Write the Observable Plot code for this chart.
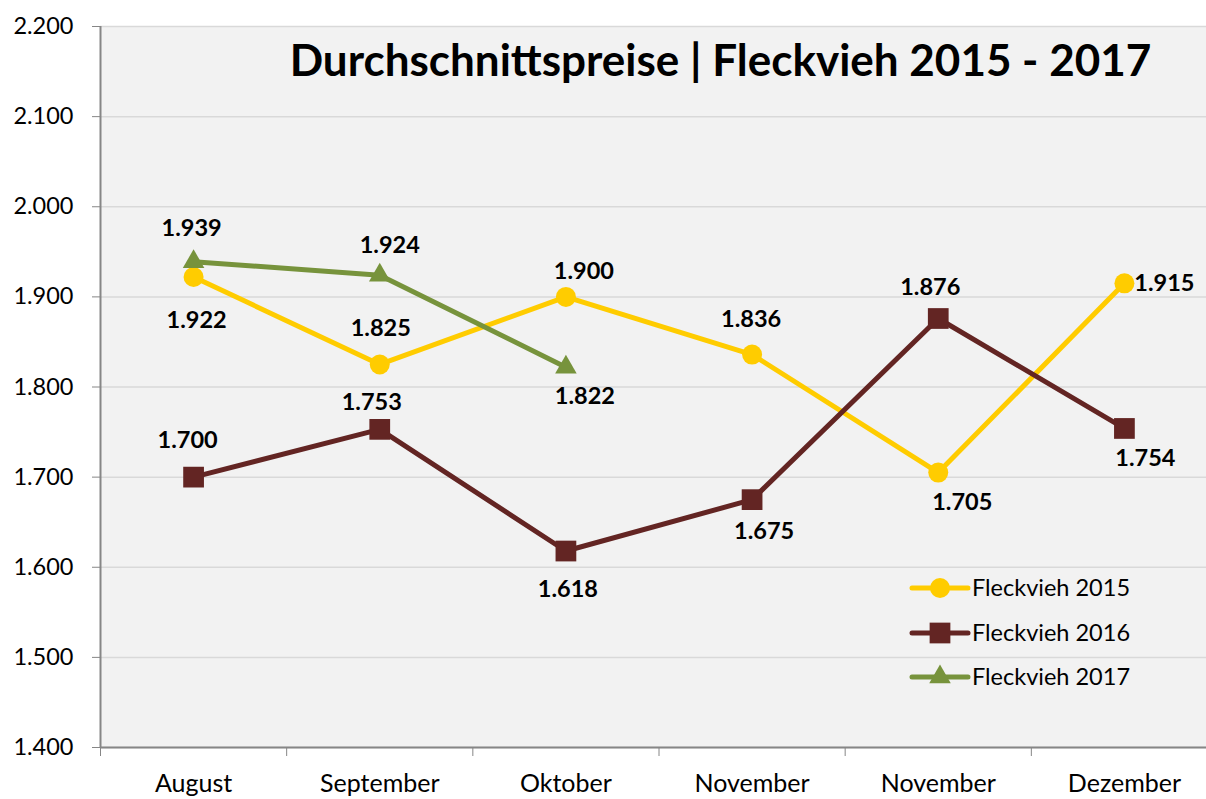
<!DOCTYPE html>
<html><head><meta charset="utf-8">
<script src="https://cdn.jsdelivr.net/npm/d3@7"></script>
<script src="https://cdn.jsdelivr.net/npm/@observablehq/plot@0.6"></script>
<style>
html,body{margin:0;padding:0;background:#fff;}
#chart{position:relative;width:1206px;height:799px;overflow:hidden;font-family:Lato,sans-serif;}
#legend{position:absolute;left:0;top:0;pointer-events:none;}
</style></head><body><div id="chart"></div>
<script>
// ---- data ----
const months = ["August","September","Oktober","November","November","Dezember"];
const fleckvieh2015 = [1922,1825,1900,1836,1705,1915];
const fleckvieh2016 = [1700,1753,1618,1675,1876,1754];
const fleckvieh2017 = [1939,1924,1822];
const seriesNames = ["Fleckvieh 2015","Fleckvieh 2016","Fleckvieh 2017"];
const yTicks = [1400,1500,1600,1700,1800,1900,2000,2100,2200];
const title = "Durchschnittspreise | Fleckvieh 2015 - 2017";

// ---- styling ----
const colors = ["#ffcc00","#632523","#77933c"];
const symbols = ["circle","square","triangle"];
const symbolR = [10,11.7,8];
const labelOffsets = [
  [[3,43],[1,-36],[18,-25],[-1,-35],[24,30],[40,0]],
  [[-6,-37],[-8,-27],[2,38],[12,32],[-8,-31],[21,30]],
  [[-2,-33],[10,-30],[19,29]]
];

const de = d3.formatLocale({decimal:",", thousands:".", grouping:[3], currency:["","€"]});
const fmt = de.format(",");

const allSeries = [fleckvieh2015, fleckvieh2016, fleckvieh2017];
const rows = allSeries.map((vals, s) => vals.map((v, i) => ({series: seriesNames[s], s, i, value: v})));

const marks = [
  Plot.frame({fill:"#f2f2f2", stroke:null}),
  Plot.gridY(yTicks, {stroke:"#d9d9d9", strokeOpacity:1, strokeWidth:1.5}),
  Plot.ruleX([-0.5], {stroke:"#868686", strokeWidth:2}),
  Plot.ruleY([1400], {stroke:"#868686", strokeWidth:2}),
  Plot.axisY({ticks: yTicks, tickSize: 8, tickPadding: 19, tickFormat: fmt, fontSize: 23.5, stroke:"#868686", fill:"black", label:null}),
  Plot.axisX({ticks: [-0.5,0.5,1.5,2.5,3.5,4.5,5.5], tickSize: 9, tickFormat: () => "", stroke:"#868686", label:null}),
  Plot.axisX({ticks: [0,1,2,3,4,5], tickSize: 0, tickPadding: 27, tickFormat: i => months[i], fontSize: 25, fill:"black", label:null}),
];
rows.forEach((data, s) => {
  marks.push(Plot.line(data, {x:"i", y:"value", stroke: colors[s], strokeWidth: 5}));
  marks.push(Plot.dot(data, {x:"i", y:"value", symbol: symbols[s], r: symbolR[s], fill: colors[s], stroke: null}));
});
rows.forEach((data, s) => {
  data.forEach((d, k) => {
    const [dx, dy] = labelOffsets[s][k];
    marks.push(Plot.text([d], {x:"i", y:"value", text: d => fmt(d.value), dx, dy, fontSize: 23.5, fontWeight:"bold", fill:"black", lineAnchor:"middle"}));
  });
});
marks.push(Plot.text([title], {frameAnchor:"top", dx: 67, dy: 35, fontSize: 44, fontWeight:"bold", fill:"black", lineAnchor:"middle"}));

const chart = Plot.plot({
  width: 1206, height: 799,
  marginLeft: 100, marginRight: 0, marginTop: 26, marginBottom: 52,
  style: {fontFamily: "Lato, sans-serif", background: "#fff"},
  x: {type:"linear", domain:[-0.5, 5.5], range:[100, 1217]},
  y: {domain:[1400, 2200]},
  marks
});
document.getElementById("chart").appendChild(chart);

// ---- legend ----
const lg = d3.select("#chart").append("svg").attr("id","legend").attr("width",1206).attr("height",799);
const legendY = [588, 633, 677];
seriesNames.forEach((name, s) => {
  const g = lg.append("g").attr("transform", `translate(0,${legendY[s]})`);
  g.append("line").attr("x1",912).attr("x2",968).attr("y1",0).attr("y2",0)
    .attr("stroke",colors[s]).attr("stroke-width",5).attr("stroke-linecap","round");
  const sym = {circle:d3.symbolCircle, square:d3.symbolSquare, triangle:d3.symbolTriangle}[symbols[s]];
  g.append("path").attr("transform","translate(940,0)")
    .attr("d", d3.symbol(sym, Math.PI*symbolR[s]*symbolR[s])()).attr("fill", colors[s]);
  g.append("text").attr("x",972).attr("y",0).attr("dy","0.35em")
    .attr("font-family","Lato, sans-serif").attr("font-size",23.5).attr("fill","black").text(name);
});
</script></body></html>
